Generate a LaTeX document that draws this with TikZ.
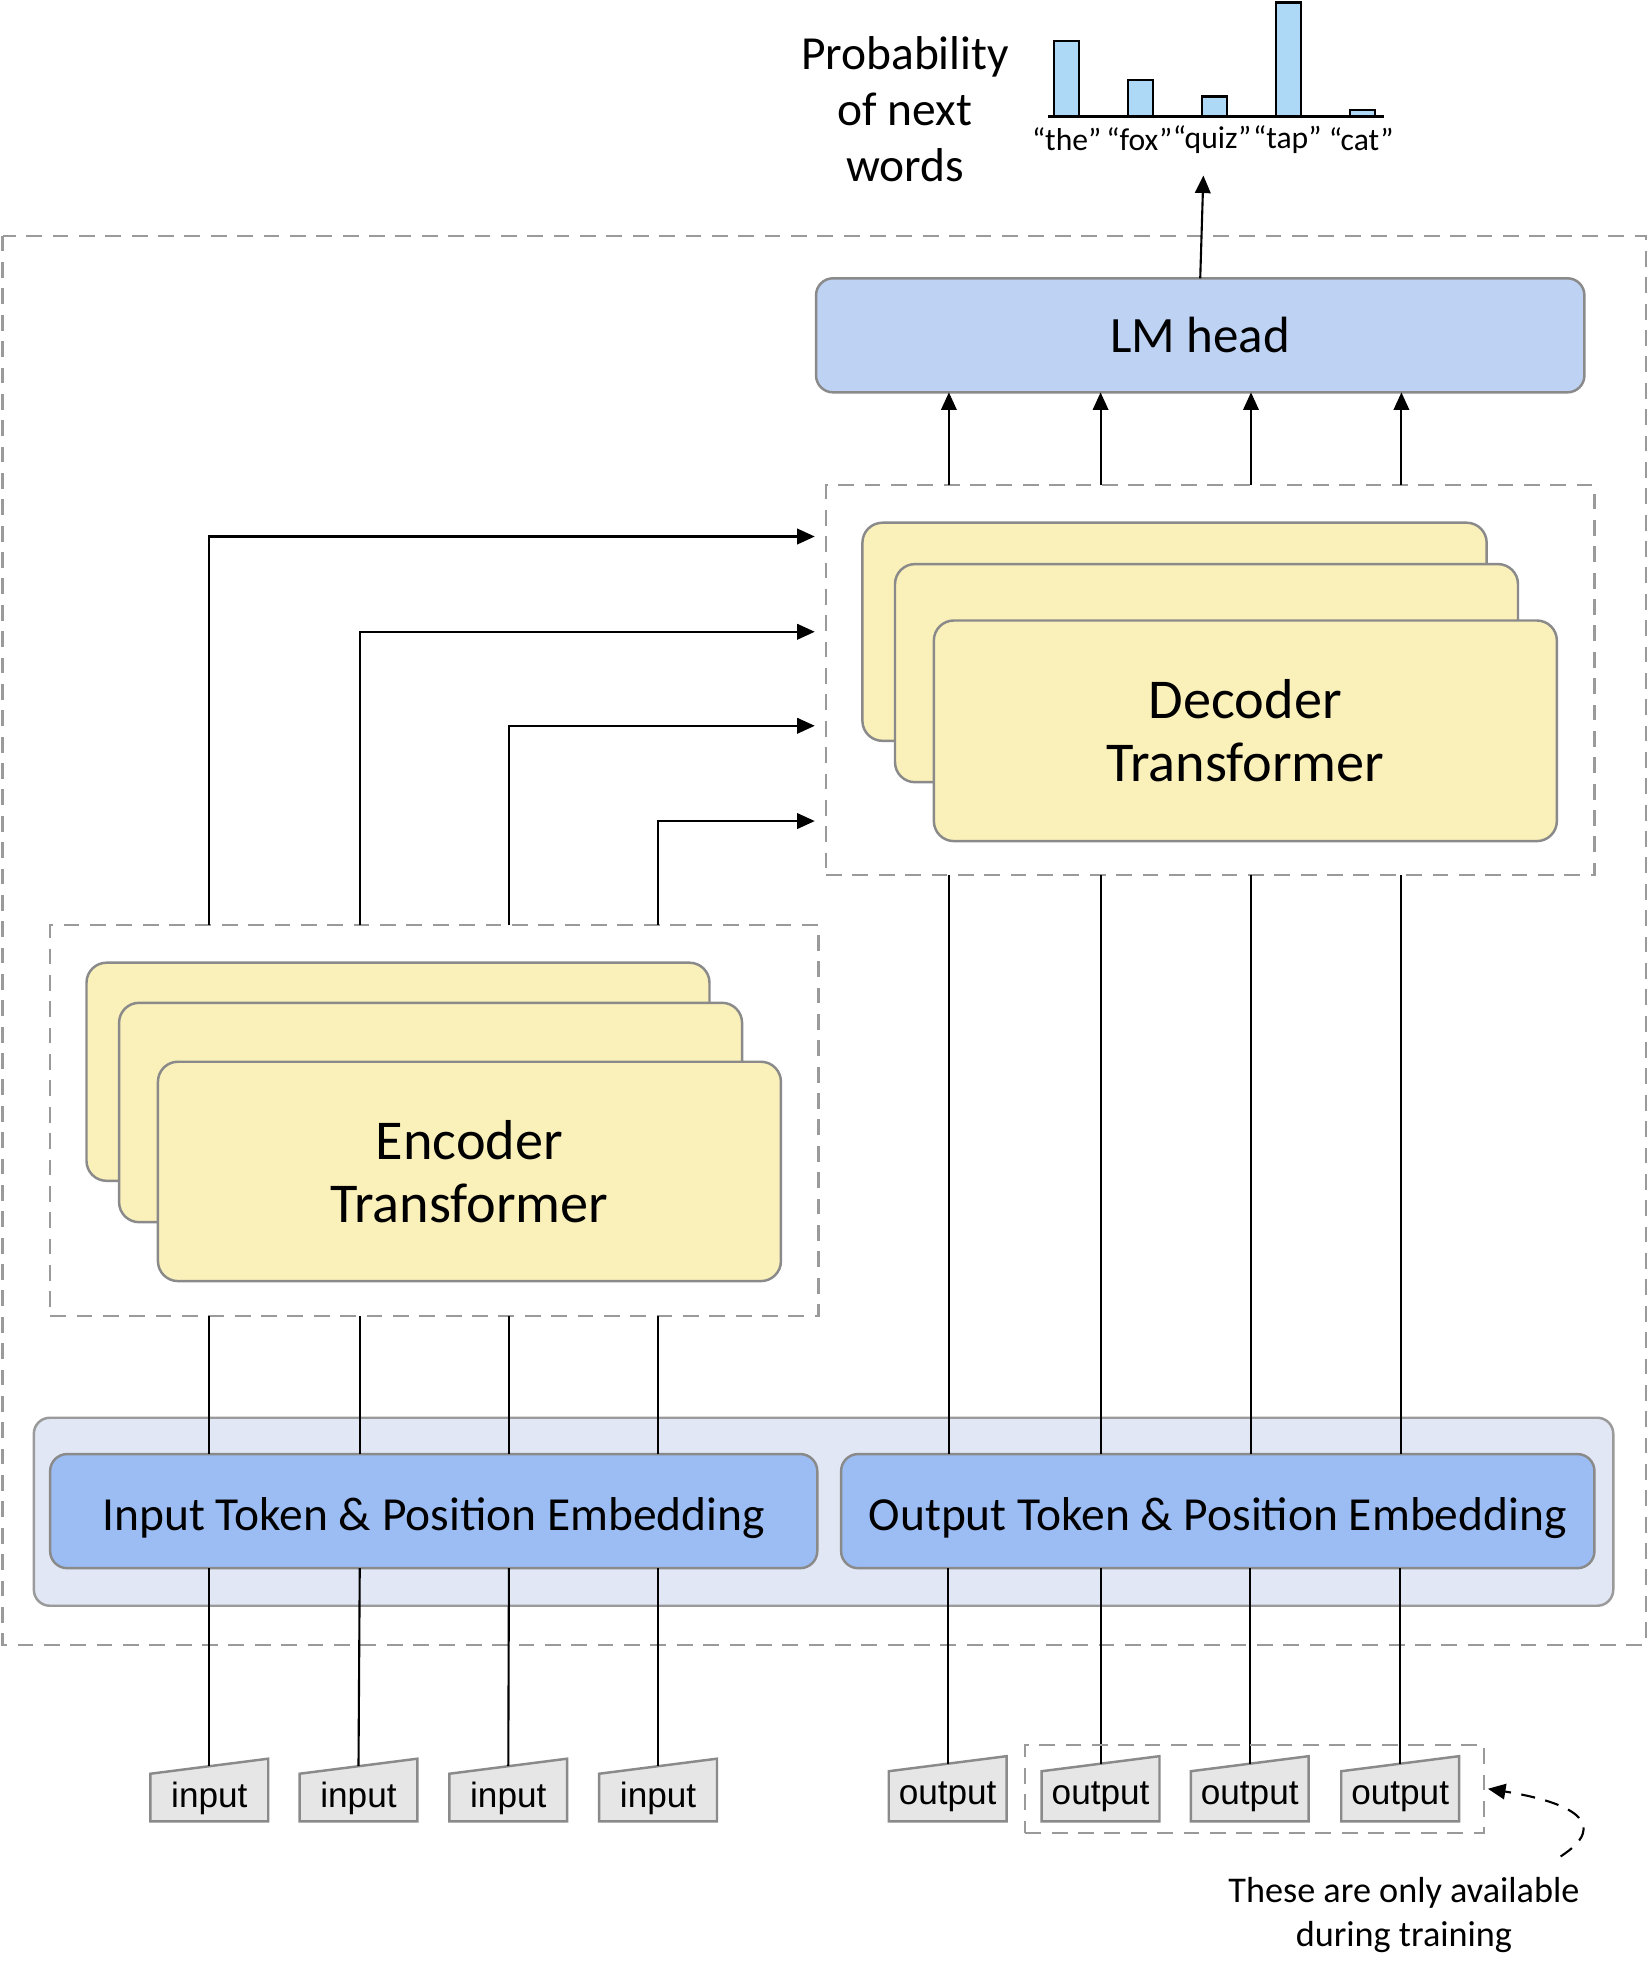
\documentclass[tikz,border=0pt]{standalone}
\usepackage{fontspec}
\setmainfont{Carlito}
\newfontfamily\tokfont{Liberation Sans}
\usetikzlibrary{arrows.meta}

\definecolor{lmblue}{HTML}{BED2F3}
\definecolor{embblue}{HTML}{9CBDF3}
\definecolor{embback}{HTML}{E1E7F4}
\definecolor{layeryellow}{HTML}{FAF0B9}
\definecolor{barblue}{HTML}{ADD8F6}
\definecolor{tokgray}{HTML}{E6E6E6}
\definecolor{edgegray}{HTML}{8A8A8A}
\definecolor{dashgray}{HTML}{9A9A9A}

\tikzset{
    dashbox/.style={draw=dashgray, line width=0.6pt, dash pattern=on 4.5pt off 3pt, outer sep=0pt, inner sep=0pt},
    layer/.style={draw=edgegray, fill=layeryellow, line width=0.7pt, rounded corners=2mm, outer sep=0pt},
    headbox/.style={draw=edgegray, fill=lmblue, line width=0.7pt, rounded corners=1.7mm, outer sep=0pt},
    embbox/.style={draw=edgegray, fill=embblue, line width=0.7pt, rounded corners=1.7mm, outer sep=0pt},
    tokshape/.style={draw=edgegray, fill=tokgray, line width=0.7pt},
    toklabel/.style={font=\tokfont\fontsize{10}{12}\selectfont, inner sep=0pt},
    arr/.style={line width=0.6pt, -{Triangle[length=5pt,width=4.4pt]}},
    link/.style={line width=0.6pt},
}

\begin{document}
\begin{tikzpicture}[x=0.1253mm, y=-0.1253mm]
    \def\u{0.1253mm}
    \useasboundingbox (0,0) rectangle (1316,1570);

    % columns
    \foreach \i/\x in {1/167, 2/287, 3/406, 4/525}
        \coordinate (e\i) at (\x,0);
    \foreach \i/\x in {1/757, 2/878, 3/998, 4/1118}
        \coordinate (d\i) at (\x,0);

    \draw[dashbox] (2,188) rectangle (1313,1312);

    % embeddings
    \node[draw=dashgray, fill=embback, line width=0.7pt, rounded corners=1.6mm,
          minimum width=1260*\u, minimum height=150*\u] (embback) at (657,1206) {};
    \node[embbox, minimum width=612*\u, minimum height=91*\u, font=\fontsize{13.5}{16}\selectfont,
          text height=11pt, text depth=0pt] (inemb) at (346,1205.5) {Input Token \& Position Embedding};
    \node[embbox, minimum width=601*\u, minimum height=91*\u, font=\fontsize{13.5}{16}\selectfont,
          text height=11pt, text depth=0pt] (outemb) at (971.5,1205.5) {Output Token \& Position Embedding};

    % encoder
    \node[dashbox, minimum width=613*\u, minimum height=312*\u] (encbox) at (346.5,894) {};
    \node[layer, minimum width=497*\u, minimum height=174*\u] (enc1) at (317.5,855) {};
    \node[layer, minimum width=497*\u, minimum height=175*\u] (enc2) at (343.5,887.5) {};
    \node[layer, minimum width=497*\u, minimum height=175*\u, align=center,
          font=\fontsize{16}{17.8}\selectfont] (enc) at (374.5,934.5) {Encoder\\Transformer};

    % decoder
    \node[dashbox, minimum width=613*\u, minimum height=311*\u] (decbox) at (965.5,542.5) {};
    \node[layer, minimum width=498*\u, minimum height=174*\u] (dec1) at (937,504) {};
    \node[layer, minimum width=497*\u, minimum height=174*\u] (dec2) at (962.5,537) {};
    \node[layer, minimum width=497*\u, minimum height=176*\u, align=center,
          font=\fontsize{16}{17.8}\selectfont] (dec) at (993.5,583) {Decoder\\Transformer};

    \node[headbox, minimum width=613*\u, minimum height=91*\u, font=\fontsize{14.5}{17}\selectfont]
        (lmhead) at (957.5,267.5) {LM head};

    % cross connections
    \foreach \i/\y in {1/428, 2/504, 3/579, 4/655}
        \coordinate (kv\i) at (650,\y);
    \foreach \i in {1,...,4} {
        \draw[arr] (encbox.north -| e\i) |- (kv\i);
        \draw[link] (inemb.north -| e\i) -- (encbox.south -| e\i);
        \draw[link] (outemb.north -| d\i) -- (decbox.south -| d\i);
        \draw[arr] (decbox.north -| d\i) -- (lmhead.south -| d\i);
    }

    % tokens
    \foreach \i/\x in {1/167, 2/286, 3/405.5, 4/525} {
        \draw[tokshape] (\x-47,1415) -- (\x+47,1403) -- (\x+47,1453) -- (\x-47,1453) -- cycle;
        \coordinate (intop\i) at (\x,1409);
        \node[toklabel] (in\i) at (\x,1435) {input};
        \draw[link] (inemb.south -| e\i) -- (intop\i);
    }
    \foreach \i/\x in {1/756, 2/878, 3/997, 4/1117} {
        \draw[tokshape] (\x-47,1413) -- (\x+47,1401) -- (\x+47,1453) -- (\x-47,1453) -- cycle;
        \coordinate (outtop\i) at (\x,1407);
        \node[toklabel] (out\i) at (\x,1433) {output};
        \draw[link] (outemb.south -| outtop\i) -- (outtop\i);
    }

    \node[dashbox, minimum width=366*\u, minimum height=70*\u] (trainbox) at (1001,1427) {};
    \node[align=center, font=\fontsize{10.3}{12.5}\selectfont] (note) at (1120,1528)
        {These are only available\\during training};
    \coordinate (curl) at (1245,1481);
    \draw[line width=0.6pt, dash pattern=on 4pt off 3pt, -{Triangle[length=5pt,width=4.4pt]}]
        (curl) .. controls (1285,1455) and (1255,1438) .. ([xshift=3*\u]trainbox.east);

    % next word probabilities
    \coordinate (chart) at (960,140);
    \draw[arr] (lmhead.north) -- (chart);
    \foreach \x/\h in {841/33, 900/64, 959/77, 1018/2, 1077/88}
        \draw[fill=barblue, line width=0.6pt] (\x,93) rectangle (\x+20,\h);
    \draw[line width=0.7pt] (836,93) -- (1104,93);
    \foreach \x/\w in {851/the, 909/fox, 967/quiz, 1027/tap, 1086/cat}
        \node[font=\fontsize{9}{11}\selectfont, inner sep=0pt] (lab\w) at (\x,111) {“\w”};
    \node[align=center, font=\fontsize{13.5}{16}\selectfont] (prob) at (722,87)
        {Probability\\of next\\words};
\end{tikzpicture}
\end{document}
